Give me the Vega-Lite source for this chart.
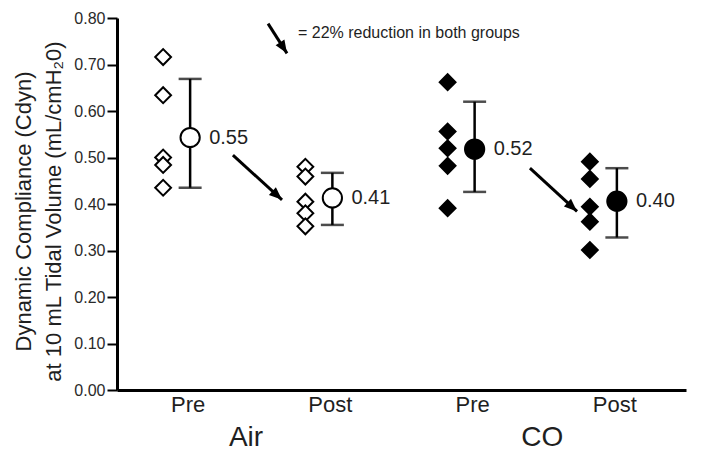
{
  "$schema": "https://vega.github.io/schema/vega-lite/v6.json",
  "width": 569,
  "height": 372,
  "autosize": "none",
  "padding": {"left": 117, "top": 18, "right": 15, "bottom": 61},
  "config": {
    "view": {"stroke": null},
    "font": "Liberation Sans",
    "axisY": {
      "values": [0, 0.1, 0.2, 0.3, 0.4, 0.5, 0.6, 0.7, 0.8],
      "format": ".2f",
      "grid": false,
      "labelFontSize": 16,
      "labelColor": "#2a2a2a",
      "labelPadding": 2,
      "tickSize": 10,
      "tickWidth": 2,
      "tickColor": "black",
      "domainColor": "black",
      "domainWidth": 3,
      "titleFontSize": 22,
      "titleFontWeight": "normal",
      "titleColor": "#1f1f1f",
      "titleLineHeight": 30,
      "titlePadding": 8,
      "titleY": 193
    }
  },
  "datasets": {
    "individual": [
      {"group": "Air", "condition": "Air Pre", "compliance": 0.716},
      {"group": "Air", "condition": "Air Pre", "compliance": 0.634},
      {"group": "Air", "condition": "Air Pre", "compliance": 0.500},
      {"group": "Air", "condition": "Air Pre", "compliance": 0.484},
      {"group": "Air", "condition": "Air Pre", "compliance": 0.435},
      {"group": "Air", "condition": "Air Post", "compliance": 0.480},
      {"group": "Air", "condition": "Air Post", "compliance": 0.459},
      {"group": "Air", "condition": "Air Post", "compliance": 0.405},
      {"group": "Air", "condition": "Air Post", "compliance": 0.380},
      {"group": "Air", "condition": "Air Post", "compliance": 0.352},
      {"group": "CO", "condition": "CO Pre", "compliance": 0.662},
      {"group": "CO", "condition": "CO Pre", "compliance": 0.556},
      {"group": "CO", "condition": "CO Pre", "compliance": 0.520},
      {"group": "CO", "condition": "CO Pre", "compliance": 0.482},
      {"group": "CO", "condition": "CO Pre", "compliance": 0.391},
      {"group": "CO", "condition": "CO Post", "compliance": 0.491},
      {"group": "CO", "condition": "CO Post", "compliance": 0.454},
      {"group": "CO", "condition": "CO Post", "compliance": 0.394},
      {"group": "CO", "condition": "CO Post", "compliance": 0.362},
      {"group": "CO", "condition": "CO Post", "compliance": 0.301}
    ],
    "summary": [
      {"group": "Air", "condition": "Air Pre", "mean": 0.543, "lower": 0.435, "upper": 0.669, "label": "0.55"},
      {"group": "Air", "condition": "Air Post", "mean": 0.413, "lower": 0.355, "upper": 0.467, "label": "0.41"},
      {"group": "CO", "condition": "CO Pre", "mean": 0.518, "lower": 0.426, "upper": 0.620, "label": "0.52"},
      {"group": "CO", "condition": "CO Post", "mean": 0.406, "lower": 0.328, "upper": 0.477, "label": "0.40"}
    ],
    "arrows": [
      {"x": 0.815, "y": 0.505, "x2": 1.160, "y2": 0.409},
      {"x": 2.903, "y": 0.477, "x2": 3.234, "y2": 0.384},
      {"x": 1.062, "y": 0.788, "x2": 1.195, "y2": 0.724}
    ],
    "note": [
      {"text": "= 22% reduction in both groups", "x": 1.272, "y": 0.767}
    ],
    "groups": [
      {"group": "Air", "x": 0.907},
      {"group": "CO", "x": 2.99}
    ]
  },
  "layer": [
    {
      "encoding": {
        "x": {
          "field": "condition",
          "type": "nominal",
          "sort": ["Air Pre", "Air Post", "CO Pre", "CO Post"],
          "scale": {"domain": ["Air Pre", "Air Post", "CO Pre", "CO Post"]},
          "axis": {
            "title": null,
            "labelExpr": "split(datum.label, ' ')[1]",
            "labelAngle": 0,
            "labelFontSize": 22,
            "labelColor": "#1f1f1f",
            "labelPadding": 4,
            "ticks": false,
            "domainColor": "black",
            "domainWidth": 3
          }
        }
      },
      "layer": [
        {
          "data": {"name": "summary"},
          "mark": {"type": "rule", "color": "black", "strokeWidth": 2.5, "xOffset": 2},
          "encoding": {
            "y": {
              "field": "lower",
              "type": "quantitative",
              "scale": {"domain": [0, 0.8], "nice": false},
              "title": ["Dynamic Compliance (Cdyn)", "at 10 mL Tidal Volume (mL/cmH₂0)"]
            },
            "y2": {"field": "upper"}
          }
        },
        {
          "data": {"name": "summary"},
          "mark": {"type": "tick", "orient": "horizontal", "color": "black", "size": 23, "thickness": 2.5, "xOffset": 2},
          "encoding": {"y": {"field": "lower", "type": "quantitative", "title": ["Dynamic Compliance (Cdyn)", "at 10 mL Tidal Volume (mL/cmH₂0)"]}}
        },
        {
          "data": {"name": "summary"},
          "mark": {"type": "tick", "orient": "horizontal", "color": "black", "size": 23, "thickness": 2.5, "xOffset": 2},
          "encoding": {"y": {"field": "upper", "type": "quantitative", "title": ["Dynamic Compliance (Cdyn)", "at 10 mL Tidal Volume (mL/cmH₂0)"]}}
        },
        {
          "data": {"name": "individual"},
          "mark": {"type": "point", "shape": "diamond", "filled": true, "stroke": "black", "strokeWidth": 2, "size": 250, "opacity": 1, "xOffset": -25},
          "encoding": {
            "y": {"field": "compliance", "type": "quantitative", "title": ["Dynamic Compliance (Cdyn)", "at 10 mL Tidal Volume (mL/cmH₂0)"]},
            "fill": {"field": "group", "type": "nominal", "scale": {"domain": ["Air", "CO"], "range": ["white", "black"]}, "legend": null}
          }
        },
        {
          "data": {"name": "summary"},
          "mark": {"type": "point", "shape": "circle", "filled": true, "stroke": "black", "strokeWidth": 2, "size": 370, "opacity": 1, "xOffset": 2},
          "encoding": {
            "y": {"field": "mean", "type": "quantitative", "title": ["Dynamic Compliance (Cdyn)", "at 10 mL Tidal Volume (mL/cmH₂0)"]},
            "fill": {"field": "group", "type": "nominal", "legend": null}
          }
        },
        {
          "data": {"name": "summary"},
          "mark": {"type": "text", "align": "left", "baseline": "middle", "dx": 21, "fontSize": 20, "color": "#1f1f1f"},
          "encoding": {
            "y": {"field": "mean", "type": "quantitative", "title": ["Dynamic Compliance (Cdyn)", "at 10 mL Tidal Volume (mL/cmH₂0)"]},
            "text": {"field": "label"}
          }
        }
      ]
    },
    {
      "layer": [
        {
          "data": {"name": "arrows"},
          "mark": {"type": "rule", "color": "black", "strokeWidth": 3},
          "encoding": {
            "x": {"field": "x", "type": "quantitative", "scale": {"domain": [0, 4], "nice": false, "zero": false}, "axis": null},
            "y": {"field": "y", "type": "quantitative", "title": ["Dynamic Compliance (Cdyn)", "at 10 mL Tidal Volume (mL/cmH₂0)"]},
            "x2": {"field": "x2"},
            "y2": {"field": "y2"}
          }
        },
        {
          "data": {"name": "arrows"},
          "mark": {
            "type": "point",
            "shape": "M0,0L-2,-0.8L-2,0.8Z",
            "filled": true,
            "color": "black",
            "opacity": 1,
            "size": 169,
            "angle": {"expr": "atan2((datum.y - datum.y2) * 465, (datum.x2 - datum.x) * 142.25) * 180 / PI"}
          },
          "encoding": {
            "x": {"field": "x2", "type": "quantitative", "axis": null},
            "y": {"field": "y2", "type": "quantitative", "title": ["Dynamic Compliance (Cdyn)", "at 10 mL Tidal Volume (mL/cmH₂0)"]}
          }
        },
        {
          "data": {"name": "note"},
          "mark": {"type": "text", "align": "left", "baseline": "middle", "fontSize": 16, "color": "#1f1f1f"},
          "encoding": {
            "x": {"field": "x", "type": "quantitative", "axis": null},
            "y": {"field": "y", "type": "quantitative", "title": ["Dynamic Compliance (Cdyn)", "at 10 mL Tidal Volume (mL/cmH₂0)"]},
            "text": {"field": "text"}
          }
        },
        {
          "data": {"name": "groups"},
          "mark": {"type": "text", "align": "center", "baseline": "alphabetic", "fontSize": 28, "color": "#1f1f1f"},
          "encoding": {
            "x": {"field": "x", "type": "quantitative", "axis": null},
            "y": {"datum": -0.12, "type": "quantitative", "title": ["Dynamic Compliance (Cdyn)", "at 10 mL Tidal Volume (mL/cmH₂0)"]},
            "text": {"field": "group"}
          }
        }
      ]
    }
  ],
  "resolve": {"scale": {"x": "independent"}}
}
